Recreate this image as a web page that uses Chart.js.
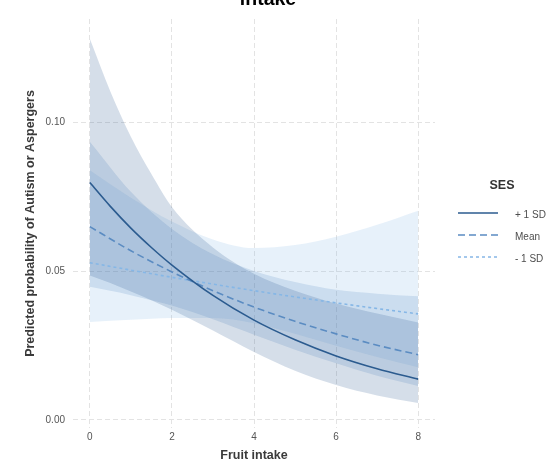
<!DOCTYPE html>
<html>
<head>
<meta charset="utf-8">
<script src="https://cdn.jsdelivr.net/npm/chart.js@4.4.1/dist/chart.umd.min.js"></script>
<style>
  html, body { margin: 0; padding: 0; background: #ffffff; }
  #wrap { width: 553px; height: 464px; position: relative; }
</style>
</head>
<body>
<div id="wrap"><canvas id="c" width="553" height="464"></canvas></div>
<script>
// Fruit intake grid used by the model predictions
const xHighSES = [0, 0.5, 1, 1.5, 2, 3, 4, 5, 6, 7, 8];
const xGrid = [0, 1, 2, 3, 4, 5, 6, 7, 8];

// Predicted probability (+ 1 SD SES)
const highFit   = [0.0797, 0.0717, 0.0644, 0.0579, 0.0520, 0.0418, 0.0335, 0.0269, 0.0215, 0.0172, 0.0137];
const highUpper = [0.1280, 0.1103, 0.0951, 0.0826, 0.0715, 0.0579, 0.0491, 0.0434, 0.0391, 0.0357, 0.0327];
const highLower = [0.0485, 0.0460, 0.0431, 0.0402, 0.0370, 0.0300, 0.0228, 0.0165, 0.0117, 0.0082, 0.0057];

// Predicted probability (mean SES)
const meanFit   = [0.0649, 0.0568, 0.0497, 0.0434, 0.0379, 0.0331, 0.0289, 0.0251, 0.0219];
const meanUpper = [0.0934, 0.0766, 0.0641, 0.0556, 0.0500, 0.0463, 0.0437, 0.0424, 0.0415];
const meanLower = [0.0447, 0.0419, 0.0384, 0.0338, 0.0286, 0.0236, 0.0190, 0.0148, 0.0114];

// Predicted probability (- 1 SD SES)
const lowFit   = [0.0528, 0.0503, 0.0479, 0.0456, 0.0434, 0.0413, 0.0393, 0.0374, 0.0356];
const lowUpper = [0.0838, 0.0746, 0.0666, 0.0606, 0.0577, 0.0587, 0.0615, 0.0655, 0.0702];
const lowLower = [0.0329, 0.0336, 0.0342, 0.0342, 0.0325, 0.0289, 0.0249, 0.0211, 0.0177];

const seriesLabels = ['+ 1 SD', 'Mean', '- 1 SD'];
const xTicks = [0, 2, 4, 6, 8];
const yTicks = [0.00, 0.05, 0.10];

const lineColors = ['#2b5b8f', '#5b8cc2', '#86b7e6'];
const ribbonColors = ['rgba(43,91,143,0.2)', 'rgba(91,140,194,0.2)', 'rgba(134,183,230,0.2)'];
const dashes = [[], [7, 4], [3, 3]];

const pts = (xs, ys) => xs.map((x, i) => ({ x: x, y: ys[i] }));

const lineBase = { pointRadius: 0, pointHoverRadius: 0, cubicInterpolationMode: 'monotone', fill: false };

const fits = [pts(xHighSES, highFit), pts(xGrid, meanFit), pts(xGrid, lowFit)];
const uppers = [pts(xHighSES, highUpper), pts(xGrid, meanUpper), pts(xGrid, lowUpper)];
const lowers = [pts(xHighSES, highLower), pts(xGrid, meanLower), pts(xGrid, lowLower)];

const datasets = [];
// fitted lines first so they paint above the ribbons
for (let i = 0; i < 3; i++) {
  datasets.push(Object.assign({}, lineBase, {
    label: seriesLabels[i],
    data: fits[i],
    borderColor: lineColors[i],
    borderWidth: 1.6,
    borderDash: dashes[i]
  }));
}
// confidence ribbons: upper bound filled down to the lower bound
for (let i = 0; i < 3; i++) {
  const upperIndex = datasets.length;
  datasets.push(Object.assign({}, lineBase, {
    label: seriesLabels[i] + ' upper',
    data: uppers[i],
    borderWidth: 0,
    borderColor: 'rgba(0,0,0,0)',
    backgroundColor: ribbonColors[i],
    fill: { target: upperIndex + 1 }
  }));
  datasets.push(Object.assign({}, lineBase, {
    label: seriesLabels[i] + ' lower',
    data: lowers[i],
    borderWidth: 0,
    borderColor: 'rgba(0,0,0,0)'
  }));
}

// Title line and SES key
const decorations = {
  id: 'decorations',
  afterDraw(chart) {
    const ctx = chart.ctx;
    ctx.save();
    ctx.fillStyle = '#000000';
    ctx.font = 'bold 19.5px "Liberation Sans", Arial, sans-serif';
    ctx.textAlign = 'center';
    ctx.textBaseline = 'alphabetic';
    ctx.fillText('intake', 268, 5);

    ctx.fillStyle = '#333333';
    ctx.font = 'bold 12.5px "Liberation Sans", Arial, sans-serif';
    ctx.textBaseline = 'middle';
    ctx.fillText('SES', 502, 186);

    const rows = [213, 235, 257];
    ctx.textAlign = 'left';
    ctx.font = '10px "Liberation Sans", Arial, sans-serif';
    for (let i = 0; i < 3; i++) {
      ctx.beginPath();
      ctx.setLineDash(dashes[i]);
      ctx.strokeStyle = lineColors[i];
      ctx.lineWidth = 1.6;
      ctx.moveTo(458, rows[i]);
      ctx.lineTo(498, rows[i]);
      ctx.stroke();
      ctx.setLineDash([]);
      ctx.fillStyle = '#4d4d4d';
      ctx.fillText(seriesLabels[i], 515, rows[i] + 2);
    }
    ctx.restore();
  }
};

const gridStyle = { color: '#e3e3e3', lineWidth: 1, drawTicks: false };
const borderStyle = { display: false, dash: [5, 3] };

new Chart(document.getElementById('c'), {
  type: 'line',
  data: { datasets: datasets },
  plugins: [decorations],
  options: {
    responsive: false,
    animation: false,
    events: [],
    layout: { padding: { left: 0, top: 19, right: 118, bottom: 0 } },
    plugins: {
      legend: { display: false },
      tooltip: { enabled: false },
      title: { display: false },
      filler: { propagate: false }
    },
    scales: {
      x: {
        type: 'linear',
        min: -0.41,
        max: 8.41,
        grid: gridStyle,
        border: borderStyle,
        afterBuildTicks(scale) { scale.ticks = xTicks.map(v => ({ value: v })); },
        afterFit(scale) { scale.height = 36; },
        ticks: {
          color: '#555555',
          font: { family: '"Liberation Sans", Arial, sans-serif', size: 10 },
          padding: 3,
          maxRotation: 0,
          callback: v => String(v)
        },
        title: {
          display: true,
          text: 'Fruit intake',
          color: '#3a3a3a',
          font: { family: '"Liberation Sans", Arial, sans-serif', size: 12.5, weight: 'bold' },
          padding: { top: 0, bottom: 0.5 }
        }
      },
      y: {
        type: 'linear',
        min: -0.0027,
        max: 0.1346,
        grid: gridStyle,
        border: borderStyle,
        afterBuildTicks(scale) { scale.ticks = yTicks.map(v => ({ value: v })); },
        afterFit(scale) { scale.width = 73; },
        ticks: {
          color: '#555555',
          font: { family: '"Liberation Sans", Arial, sans-serif', size: 10 },
          padding: 8,
          callback: v => Number(v).toFixed(2)
        },
        title: {
          display: true,
          text: 'Predicted probability of Autism or Aspergers',
          color: '#3a3a3a',
          font: { family: '"Liberation Sans", Arial, sans-serif', size: 12.5, weight: 'bold' },
          padding: { top: 23.5, bottom: 0 }
        }
      }
    }
  }
});
</script>
</body>
</html>
